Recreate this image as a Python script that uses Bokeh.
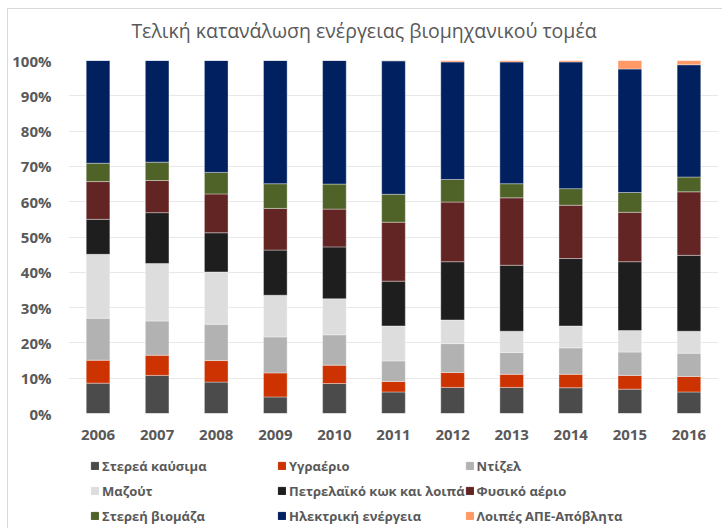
from bokeh.plotting import figure
from bokeh.layouts import column
from bokeh.core.properties import value
from bokeh.models import (FactorRange, Range1d, NumeralTickFormatter, FixedTicker,
                          Legend, LegendItem, ColumnDataSource)
from bokeh.embed import file_html
from bokeh.resources import INLINE

title_text = "Τελική κατανάλωση ενέργειας βιομηχανικού τομέα"
years = ["2006", "2007", "2008", "2009", "2010", "2011", "2012", "2013", "2014", "2015", "2016"]

series_names = ["Στερεά καύσιμα", "Υγραέριο", "Ντίζελ",
                "Μαζούτ", "Πετρελαϊκό κωκ και λοιπά", "Φυσικό αέριο",
                "Στερεή βιομάζα", "Ηλεκτρική ενέργεια", "Λοιπές ΑΠΕ-Απόβλητα"]
colors = ["#4b4b4b", "#cc3300", "#b2b2b2",
          "#dddddd", "#1e1e1e", "#632523",
          "#4f6228", "#002060", "#ff9966"]

# shares in % per year
solid_fuels = [8.6, 10.8, 8.9, 4.7, 8.5, 6.1, 7.4, 7.4, 7.3, 6.9, 6.1]
lpg         = [6.5, 5.7, 6.1, 6.8, 5.2, 3.0, 4.2, 3.7, 3.8, 3.9, 4.4]
diesel      = [11.9, 9.7, 10.3, 10.2, 8.6, 5.8, 8.2, 6.2, 7.5, 6.6, 6.6]
fuel_oil    = [18.1, 16.3, 14.8, 11.8, 10.2, 9.9, 6.7, 6.0, 6.2, 6.1, 6.2]
pet_coke    = [9.9, 14.4, 11.1, 12.8, 14.7, 12.7, 16.5, 18.7, 19.1, 19.5, 21.5]
natural_gas = [10.7, 9.1, 11.0, 11.8, 10.7, 16.7, 16.9, 19.1, 15.1, 14.0, 18.0]
biomass     = [5.2, 5.2, 6.1, 7.0, 7.1, 7.9, 6.4, 4.0, 4.7, 5.6, 4.2]
electricity = [29.1, 28.8, 31.7, 34.9, 35.0, 37.8, 33.3, 34.5, 35.9, 35.0, 31.8]
other_res   = [0.0, 0.0, 0.0, 0.0, 0.0, 0.1, 0.4, 0.4, 0.4, 2.4, 1.2]

all_series = [solid_fuels, lpg, diesel, fuel_oil, pet_coke, natural_gas,
              biomass, electricity, other_res]
keys = ["s%d" % i for i in range(len(all_series))]

data = {"year": years}
for k, vals in zip(keys, all_series):
    data[k] = [v / 100.0 for v in vals]
source = ColumnDataSource(data)

TXT = "#595959"
FONT = "Open Sans"
W = 714
H_TITLE = 40
H_MAIN = 402
H_LEG = 77
FRAME_L, FRAME_R = 60, W - 4   # frame edges of the main chart (px within figure)

# title strip (its frame is aligned with the chart frame by the column layout)
p0 = figure(x_range=Range1d(FRAME_L, FRAME_R), y_range=Range1d(0, H_TITLE),
            width=W, height=H_TITLE,
            output_backend="svg", toolbar_location=None,
            x_axis_location=None, y_axis_location=None,
            min_border_left=FRAME_L, min_border_right=W - FRAME_R,
            min_border_top=0, min_border_bottom=0,
            background_fill_color="white", border_fill_color="white")
p0.grid.visible = False
p0.outline_line_color = None
p0.text(x=[355.5], y=[H_TITLE - 21], text=[title_text], text_align="center",
        text_baseline="middle", text_font=value(FONT), text_font_size="19.5px",
        text_color=TXT)

# main chart
p = figure(x_range=FactorRange(*years, range_padding=0), y_range=Range1d(0, 1),
           width=W, height=H_MAIN, output_backend="svg", toolbar_location=None,
           min_border_left=FRAME_L, min_border_right=W - FRAME_R, min_border_top=11,
           min_border_bottom=38, background_fill_color="white",
           border_fill_color="white")
p.outline_line_color = None

renderers = p.vbar_stack(keys, x="year", width=0.4, source=source, color=colors,
                         line_color="white", line_width=0.6, line_alpha=0.6)

p.yaxis.ticker = FixedTicker(ticks=[i / 10 for i in range(11)])
p.yaxis.formatter = NumeralTickFormatter(format="0%")
for ax in (p.xaxis, p.yaxis):
    ax.axis_line_color = None
    ax.major_tick_line_color = None
    ax.minor_tick_line_color = None
    ax.major_label_text_font = FONT
    ax.major_label_text_font_size = "15px"
    ax.major_label_text_font_style = "bold"
    ax.major_label_text_color = TXT
p.yaxis.major_label_standoff = 11
p.xaxis.major_label_standoff = 10

p.xgrid.grid_line_color = None
p.ygrid.grid_line_color = "#e8e8e8"
p.ygrid.grid_line_width = 1

# legend strip
p2 = figure(x_range=Range1d(0, 1), y_range=Range1d(0, 1), width=W, height=H_LEG,
            output_backend="svg", toolbar_location=None,
            x_axis_location=None, y_axis_location=None,
            min_border_left=FRAME_L, min_border_right=W - FRAME_R,
            min_border_top=0, min_border_bottom=0,
            background_fill_color="white", border_fill_color="white")
p2.grid.visible = False
p2.outline_line_color = None

items = []
for name, col in zip(series_names, colors):
    r = p2.vbar(x=[-10], top=[-10], bottom=[-11], width=0.1, fill_color=col, line_color=col)
    items.append(LegendItem(label=name, renderers=[r]))

legend = Legend(items=items, location=(22, 0), orientation="horizontal", ncols=3,
                glyph_width=9, glyph_height=9, label_standoff=3, label_width=175,
                label_height=25, spacing=0, padding=0, margin=0,
                border_line_color=None, background_fill_alpha=0,
                label_text_font=FONT, label_text_font_size="13px",
                label_text_font_style="bold", label_text_color=TXT)
p2.add_layout(legend, "center")

layout = column(p0, p, p2, spacing=0,
                styles={"margin-left": "7px", "margin-top": "8px",
                        "border-left": "1px solid #d9d9d9", "border-top": "1px solid #d9d9d9"})

open("out.html", "w").write(file_html(layout, INLINE))
